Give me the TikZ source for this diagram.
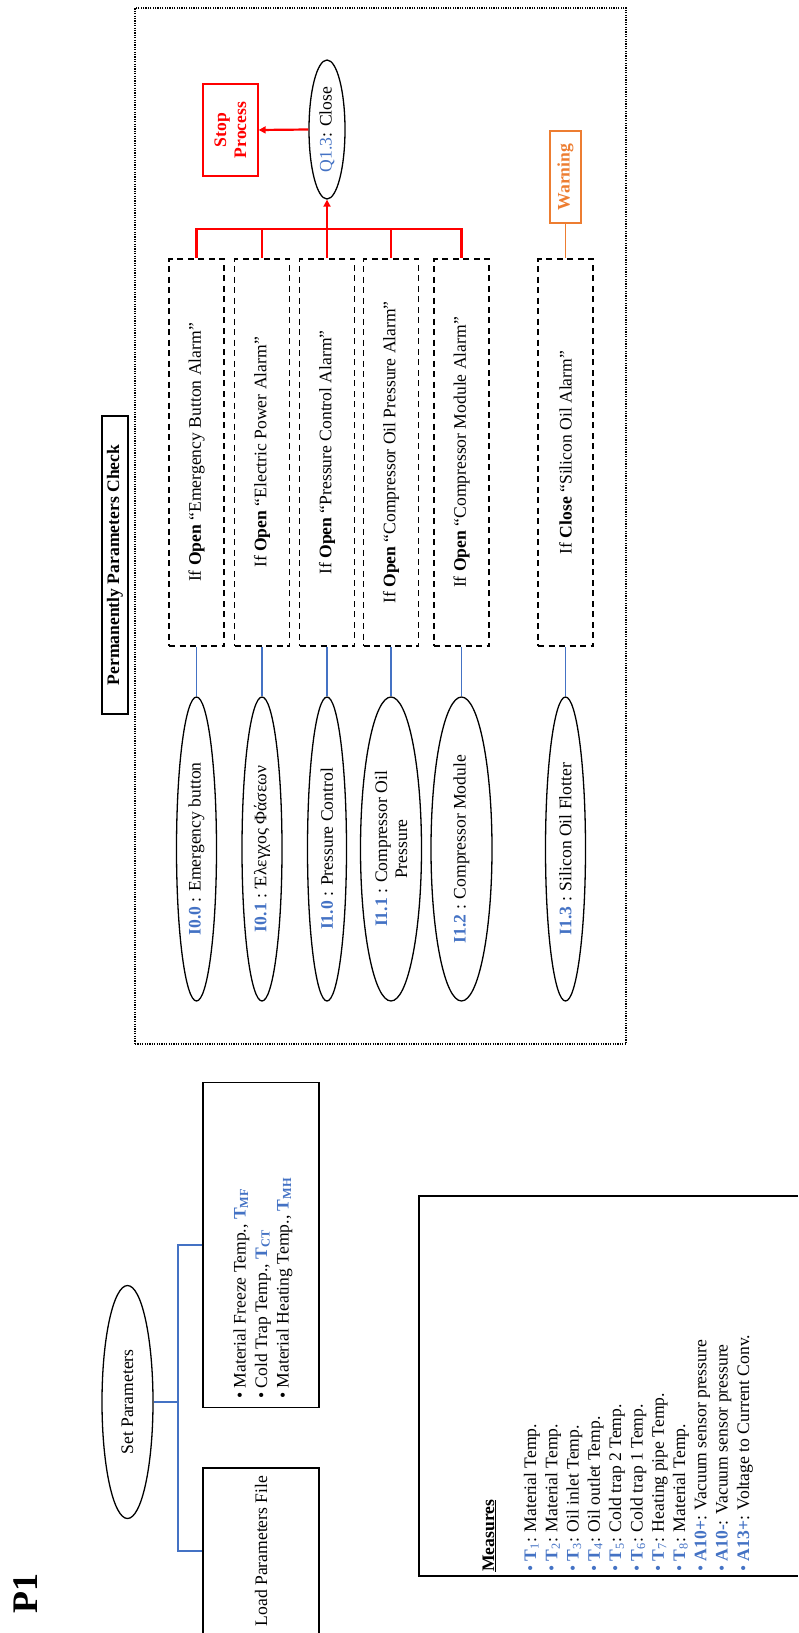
\documentclass[tikz,border=0pt]{standalone}
\usepackage{fontspec}
\setmainfont{Liberation Serif}
\usetikzlibrary{shapes.geometric,arrows.meta}
\definecolor{myblue}{RGB}{68,114,196}
\definecolor{myred}{RGB}{255,0,0}
\definecolor{myorange}{RGB}{237,125,49}
\newcommand{\bl}[1]{\textcolor{myblue}{\textbf{#1}}}
\newcommand{\mitem}[2]{\textcolor{myblue}{\textbullet\ \textbf{#1}}: #2}
\newcommand{\tsub}[1]{\textcolor{myblue}{\textbf{T}\textsubscript{#1}}}
\begin{document}
\begin{tikzpicture}[x=1pt,y=-1pt,
  every node/.style={font=\fontsize{17.6}{21}\selectfont, inner sep=0pt},
  bfnode/.style={font=\fontsize{17.6}{21}\selectfont\bfseries},
  ell/.style={draw, ellipse, line width=1.3pt},
  dbox/.style={draw, rectangle, line width=1.6pt, dash pattern=on 6pt off 4.5pt, minimum width=55pt, minimum height=387pt},
  sbox/.style={draw, rectangle, line width=1.3pt},
  rot/.style={rotate=90},
  blueline/.style={draw=myblue, line width=1.5pt},
  redline/.style={draw=myred, line width=2.2pt},
  redtip/.style={-{Triangle[length=7pt,width=7pt]}},
  frame/.style={draw, line width=1.2pt, dash pattern=on 1.2pt off 1.2pt}]
\useasboundingbox (0,0) rectangle (798,1633);

% outer dotted frame
\node[frame, minimum width=491pt, minimum height=1036pt] (fr) at (380.5,526) {};

% Permanently Parameters Check
\node[sbox, minimum width=26pt, minimum height=298pt] (ppc) at (115,565) {};
\node[rot, bfnode] at (ppc) {Permanently Parameters Check};

% dashed condition boxes
\node[dbox] (d1) at (196.5,452.5) {};
\node[dbox] (d2) at (262,452.5) {};
\node[dbox] (d3) at (327,452.5) {};
\node[dbox] (d4) at (391,452.5) {};
\node[dbox] (d5) at (461.5,452.5) {};
\node[dbox] (d6) at (565.5,452.5) {};
\node[rot] at (d1) {If \textbf{Open} “Emergency Button Alarm”};
\node[rot] at (d2) {If \textbf{Open} “Electric Power Alarm”};
\node[rot] at (d3) {If \textbf{Open} “Pressure Control Alarm”};
\node[rot] at (d4) {If \textbf{Open} “Compressor Oil Pressure Alarm”};
\node[rot] at (d5) {If \textbf{Open} “Compressor Module Alarm”};
\node[rot] at (d6) {If \textbf{Close} “Silicon Oil Alarm”};

% input ellipses
\node[ell, minimum width=40pt, minimum height=304pt] (e1) at (196.5,849) {};
\node[ell, minimum width=40pt, minimum height=304pt] (e2) at (262,849) {};
\node[ell, minimum width=39pt, minimum height=304pt] (e3) at (327,849) {};
\node[ell, minimum width=61pt, minimum height=304pt] (e4) at (391,849) {};
\node[ell, minimum width=61pt, minimum height=304pt] (e5) at (461.5,849) {};
\node[ell, minimum width=40pt, minimum height=304pt] (e6) at (565.5,849) {};
\node[rot] at (e1) {\bl{I0.0} : Emergency button};
\node[rot] at (e2) {\bl{I0.1} : Έλεγχος Φάσεων};
\node[rot] at (e3) {\bl{I1.0} : Pressure Control};
\node[rot, align=center, font=\fontsize{17.6}{20}\selectfont] at (e4) {\bl{I1.1} : Compressor Oil\\Pressure};
\node[rot] at (e5) {\bl{I1.2} : Compressor Module};
\node[rot] at (e6) {\bl{I1.3} : Silicon Oil Flotter};

% blue connectors
\draw[blueline] (d1.south) -- (e1.north);
\draw[blueline] (d2.south) -- (e2.north);
\draw[blueline] (d3.south) -- (e3.north);
\draw[blueline] (d4.south) -- (e4.north);
\draw[blueline] (d5.south) -- (e5.north);
\draw[blueline] (d6.south) -- (e6.north);

% output Q1.3 and stop
\node[ell, minimum width=36pt, minimum height=139pt] (Q) at (327,129.5) {};
\node[rot] at (Q) {\textcolor{myblue}{Q1.3}: Close};
\node[draw=myred, line width=1.3pt, minimum width=55pt, minimum height=92pt] (stop) at (230.5,130) {};
\node[rot, align=center, text=myred, font=\fontsize{17.6}{20}\selectfont\bfseries] at (stop) {Stop\\Process};

\coordinate (bus) at (0,229);
\draw[redline] (d1.north) -- (d1.north |- bus) -- (d5.north |- bus) -- (d5.north);
\draw[redline] (d2.north) -- (d2.north |- bus);
\draw[redline] (d4.north) -- (d4.north |- bus);
\draw[redline, redtip] (d3.north) -- (Q.south);
\draw[redline, redtip] (Q.west) -- (stop.east);

% warning
\node[draw=myorange, line width=1.3pt, minimum width=31pt, minimum height=92pt] (warn) at (565.5,177) {};
\node[rot, text=myorange, bfnode] at (warn) {Warning};
\draw[draw=myorange, line width=1.8pt] (warn.south) -- (d6.north);

% P1
\node[rot, anchor=base west, font=\fontsize{36}{40}\selectfont\bfseries] (p1) at (37,1614) {P1};

% set parameters
\node[ell, minimum width=51pt, minimum height=233pt] (sp) at (127.5,1402) {};
\node[rot] at (sp) {Set Parameters};
\node[sbox, minimum width=116pt, minimum height=325pt] (pb) at (261,1245) {};
\node[rot, anchor=base west] (pb1) at (245.5,1399) {\textbullet\ Material Freeze Temp., \bl{T\textsubscript{MF}}};
\node[rot, anchor=base west] (pb2) at (267,1399) {\textbullet\ Cold Trap Temp., \bl{T\textsubscript{CT}}};
\node[rot, anchor=base west] (pb3) at (288.5,1399) {\textbullet\ Material Heating Temp., \bl{T\textsubscript{MH}}};
\node[sbox, minimum width=116pt, minimum height=166pt] (lb) at (261,1551) {};
\node[rot] at (lb) {Load Parameters File};
\coordinate (jn) at (178,1402);
\draw[blueline] (sp.east) -- (jn);
\draw[blueline] (pb.west) -| (jn) |- (lb.west);

% measures
\draw[line width=1.3pt] (798,1196) -| (419,1576) -- (798,1576);
\node[rot, anchor=base west] (mh) at (494,1572) {\underline{\textbf{Measures}}};
\node[rot, anchor=base west] (m1) at (536,1572) {\textcolor{myblue}{\textbullet\ }\tsub{1}: Material Temp.};
\node[rot, anchor=base west] (m2) at (557.3,1572) {\textcolor{myblue}{\textbullet\ }\tsub{2}: Material Temp.};
\node[rot, anchor=base west] (m3) at (578.6,1572) {\textcolor{myblue}{\textbullet\ }\tsub{3}: Oil inlet Temp.};
\node[rot, anchor=base west] (m4) at (599.9,1572) {\textcolor{myblue}{\textbullet\ }\tsub{4}: Oil outlet Temp.};
\node[rot, anchor=base west] (m5) at (621.2,1572) {\textcolor{myblue}{\textbullet\ }\tsub{5}: Cold trap 2 Temp.};
\node[rot, anchor=base west] (m6) at (642.5,1572) {\textcolor{myblue}{\textbullet\ }\tsub{6}: Cold trap 1 Temp.};
\node[rot, anchor=base west] (m7) at (663.8,1572) {\textcolor{myblue}{\textbullet\ }\tsub{7}: Heating pipe Temp.};
\node[rot, anchor=base west] (m8) at (685.1,1572) {\textcolor{myblue}{\textbullet\ }\tsub{8}: Material Temp.};
\node[rot, anchor=base west] (m9) at (706.4,1572) {\mitem{A10+}{Vacuum sensor pressure}};
\node[rot, anchor=base west] (m10) at (727.7,1572) {\mitem{A10-}{Vacuum sensor pressure}};
\node[rot, anchor=base west] (m11) at (749,1572) {\mitem{A13+}{Voltage to Current Conv.}};
\end{tikzpicture}
\end{document}
